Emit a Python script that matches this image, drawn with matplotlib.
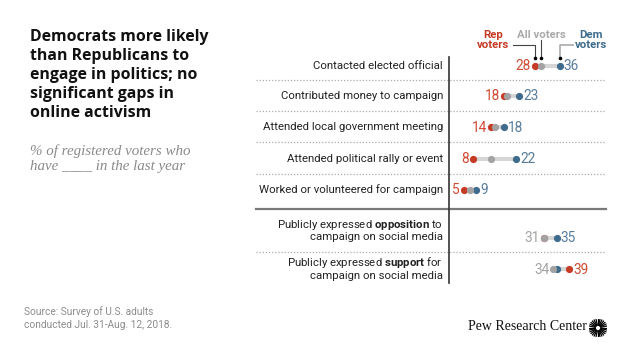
import numpy as np
import matplotlib
matplotlib.use("Agg")
from matplotlib import pyplot as plt

plt.rcParams["mathtext.fontset"] = "custom"
plt.rcParams["mathtext.rm"] = "Roboto"
plt.rcParams["mathtext.bf"] = "Roboto:bold"

# data
activities = ["Contacted elected official",
              "Contributed money to campaign",
              "Attended local government meeting",
              "Attended political rally or event",
              "Worked or volunteered for campaign",
              "Publicly expressed $\\bf{opposition}$ to\ncampaign on social media",
              "Publicly expressed $\\bf{support}$ for\ncampaign on social media"]
rep_voters = [28, 18, 14, 8, 5, 31, 39]
all_voters = [30, 19, 15, 14, 7, 31, 34]
dem_voters = [36, 23, 18, 22, 9, 35, 35]
left_label = ["rep", "rep", "rep", "rep", "rep", "all", "all"]
right_label = ["dem", "dem", "dem", "dem", "dem", "dem", "rep"]

RED = "#c63b25"
RED_TXT = "#d04a33"
BLUE = "#3f6b8c"
BLUE_TXT = "#587d9c"
GRAY = "#a3a3a3"
LINE = "#d6d6d6"

W, H = 640, 360
fig = plt.figure(figsize=(6.4, 3.6), dpi=100)

# one axes over the whole figure; x in percent (0 at pixel 448), y in pixels from top
x0, scale = 448.0, 3.1
ax = fig.add_axes([0, 0, 1, 1])
ax.set_xlim(-x0 / scale, (W - x0) / scale)
ax.set_ylim(H, 0)
ax.axis("off")

def px(x):
    # pixel x -> percent units
    return (x - x0) / scale

def ftxt(x, y, s, **kw):
    fig.text(x / W, 1 - y / H, s, **kw)

row_y = [66, 96, 127, 158.5, 190, 237.5, 269]
label_y = [66, 96, 127, 158.5, 190, 230, 268]
vals = {"rep": rep_voters, "all": all_voters, "dem": dem_voters}
cols = {"rep": RED_TXT, "all": GRAY, "dem": BLUE_TXT}

# separators
for y in [79.5, 110.8, 142, 174, 251.5]:
    ax.plot([px(256), px(606)], [y, y], color="#aaaaaa", lw=0.9, ls=(0, (1, 1.5)))
ax.plot([px(256), px(606)], [208.7, 208.7], color="#7a7a7a", lw=1.6)
ax.plot([0.3, 0.3], [57, 283], color="#333333", lw=1.2)

for i, y in enumerate(row_y):
    r, a, d = rep_voters[i], all_voters[i], dem_voters[i]
    ax.plot([min(r, d), max(r, d)], [y, y], color=LINE, lw=3, solid_capstyle="butt", zorder=2)
    ax.plot([r], [y], "o", color=RED, ms=5.2, mew=0, zorder=3)
    ax.plot([d], [y], "o", color=BLUE, ms=5.2, mew=0, zorder=3)
    ax.plot([a], [y], "o", color=GRAY, ms=5.2, mew=0, zorder=4)
    lo = min(r, a, d)
    hi = max(r, a, d)
    ls, rs = left_label[i], right_label[i]
    ax.text(lo - 1.3, y + 0.5, str(vals[ls][i]), color=cols[ls], ha="right", va="center",
            fontsize=9.8, family="Roboto")
    ax.text(hi + 1.3, y + 0.5, str(vals[rs][i]), color=cols[rs], ha="left", va="center",
            fontsize=9.8, family="Roboto")
    ax.text(px(443), label_y[i], activities[i], ha="right", va="center", fontsize=8.2,
            family="Roboto", color="#222222", linespacing=1.05)

# legend call-outs
leg = dict(fontsize=8.2, fontweight="bold", family="Roboto", ha="center", va="baseline")
ax.text(px(493), 38, "Rep", color=RED, **leg)
ax.text(px(493), 48.5, "voters", color=RED, **leg)
ax.text(px(541.5), 38, "All voters", color="#aaaaaa", **leg)
ax.text(px(591), 38, "Dem", color=BLUE, **leg)
ax.text(px(591), 48.5, "voters", color=BLUE, **leg)
ax.plot([px(513), rep_voters[0], rep_voters[0]], [45, 45, 58], color="#444444", lw=0.8)
ax.plot([all_voters[0], all_voters[0]], [40, 58], color="#444444", lw=0.8)
ax.plot([px(573), dem_voters[0], dem_voters[0]], [45, 45, 58], color="#aaaaaa", lw=1.2)
ax.plot([rep_voters[0], all_voters[0], dem_voters[0]], [58, 58, 58], "o", color="black", ms=2.6, mew=0)

# title, subtitle, source
ftxt(30, 29, "Democrats more likely\nthan Republicans to\nengage in politics; no\nsignificant gaps in\nonline activism",
     fontsize=11.4, fontweight="bold", family="Open Sans", va="top", ha="left", linespacing=1.24,
     color="#111111")
ftxt(30, 144, "% of registered voters who\nhave ____ in the last year",
     fontsize=10.8, style="italic", family="Liberation Serif", va="top", ha="left", color="#8a8a8a",
     linespacing=1.2)
ftxt(24, 306, "Source: Survey of U.S. adults\nconducted Jul. 31-Aug. 12, 2018.",
     fontsize=7.3, family="Roboto", va="top", ha="left", color="#8c8c8c", linespacing=1.35)
ftxt(587, 327, "Pew Research Center", fontsize=10, family="Liberation Serif", va="center", ha="right",
     color="#111111")

# logo burst
lax = fig.add_axes([589 / W, 1 - 337 / H, 18 / W, 18 / H])
lax.set_xlim(-1, 1)
lax.set_ylim(-1, 1)
lax.axis("off")
for t in np.linspace(0, 2 * np.pi, 28, endpoint=False):
    lax.plot([0.3 * np.cos(t), np.cos(t)], [0.3 * np.sin(t), np.sin(t)], color="black", lw=0.9,
             solid_capstyle="round")

fig.savefig("out.png", dpi=100)
